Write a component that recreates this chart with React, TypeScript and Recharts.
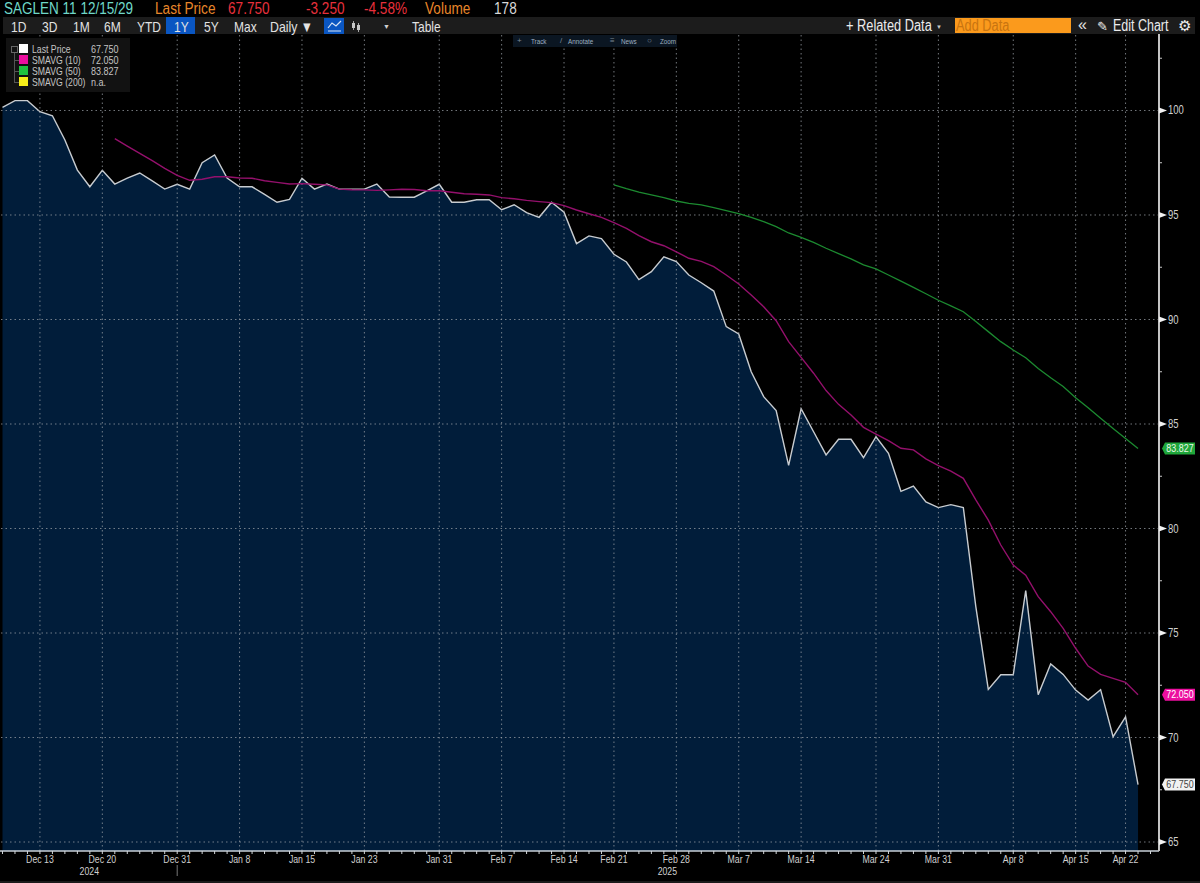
import React from 'react';
import { ComposedChart, Area, Line, XAxis, YAxis, ReferenceLine } from 'recharts';

// sessions as they sit on the axis, one per trading day
const dates = [
  'Dec 10', 'Dec 11', 'Dec 12', 'Dec 13', 'Dec 16', 'Dec 17', 'Dec 18', 'Dec 19', 'Dec 20',
  'Dec 23', 'Dec 24', 'Dec 26', 'Dec 27', 'Dec 30', 'Dec 31',
  'Jan 2', 'Jan 3', 'Jan 6', 'Jan 7', 'Jan 8', 'Jan 9', 'Jan 10', 'Jan 13', 'Jan 14', 'Jan 15',
  'Jan 16', 'Jan 17', 'Jan 21', 'Jan 22', 'Jan 23', 'Jan 24', 'Jan 27', 'Jan 28', 'Jan 29', 'Jan 30', 'Jan 31',
  'Feb 3', 'Feb 4', 'Feb 5', 'Feb 6', 'Feb 7', 'Feb 10', 'Feb 11', 'Feb 12', 'Feb 13', 'Feb 14',
  'Feb 18', 'Feb 19', 'Feb 20', 'Feb 21', 'Feb 24', 'Feb 25', 'Feb 26', 'Feb 27', 'Feb 28',
  'Mar 3', 'Mar 4', 'Mar 5', 'Mar 6', 'Mar 7', 'Mar 10', 'Mar 11', 'Mar 12', 'Mar 13', 'Mar 14',
  'Mar 17', 'Mar 18', 'Mar 19', 'Mar 20', 'Mar 21', 'Mar 24', 'Mar 25', 'Mar 26', 'Mar 27', 'Mar 28', 'Mar 31',
  'Apr 1', 'Apr 2', 'Apr 3', 'Apr 4', 'Apr 7', 'Apr 8', 'Apr 9', 'Apr 10', 'Apr 11', 'Apr 14', 'Apr 15',
  'Apr 16', 'Apr 17', 'Apr 21', 'Apr 22', 'Apr 23',
];

const lastPrice = [
  100.15, 100.47, 100.47, 99.94, 99.75, 98.59, 97.15, 96.35, 97.14, 96.48,
  96.76, 97.01, 96.63, 96.24, 96.47, 96.24, 97.5, 97.87, 96.77, 96.35,
  96.35, 95.99, 95.61, 95.75, 96.76, 96.24, 96.48, 96.24, 96.24, 96.24,
  96.48, 95.86, 95.85, 95.85, 96.16, 96.47, 95.61, 95.61, 95.73, 95.73,
  95.25, 95.49, 95.11, 94.89, 95.61, 95.13, 93.63, 94.0, 93.87, 93.12,
  92.75, 91.91, 92.29, 93.0, 92.77, 92.13, 91.76, 91.36, 89.66, 89.31,
  87.5, 86.31, 85.64, 83.02, 85.73, 84.63, 83.52, 84.27, 84.27, 83.39,
  84.39, 83.6, 81.78, 82.03, 81.27, 81.0, 81.14, 81.0, 76.26, 72.3,
  73.0, 73.0, 77.03, 72.05, 73.52, 73.02, 72.27, 71.79, 72.29, 70.04,
  70.99, 67.75,
];

const smavg10 = [
  null, null, null, null, null, null, null, null, null, 98.65,
  98.3, 97.95, 97.6, 97.23, 96.9, 96.66, 96.71, 96.83, 96.83, 96.77,
  96.76, 96.64, 96.56, 96.48, 96.5, 96.47, 96.44, 96.24, 96.21, 96.2,
  96.18, 96.2, 96.23, 96.22, 96.16, 96.16, 96.09, 96.02, 95.99, 95.96,
  95.83, 95.78, 95.7, 95.64, 95.59, 95.45, 95.24, 95.06, 94.89, 94.63,
  94.36, 94.01, 93.72, 93.53, 93.24, 92.93, 92.78, 92.53, 92.13, 91.7,
  91.17, 90.61, 89.94, 88.94, 88.19, 87.43, 86.6, 85.94, 85.43, 84.84,
  84.52, 84.2, 83.84, 83.76, 83.33, 83.01, 82.75, 82.4, 81.37, 80.4,
  79.21, 78.25, 77.77, 76.74, 76.02, 75.22, 74.27, 73.42, 73.02, 72.83,
  72.64, 72.05,
];

const smavg50 = [
  null, null, null, null, null, null, null, null, null, null,
  null, null, null, null, null, null, null, null, null, null,
  null, null, null, null, null, null, null, null, null, null,
  null, null, null, null, null, null, null, null, null, null,
  null, null, null, null, null, null, null, null, null, 96.44,
  96.26, 96.1, 95.96, 95.83, 95.67, 95.56, 95.48, 95.35, 95.21, 95.06,
  94.89, 94.68, 94.44, 94.14, 93.93, 93.69, 93.41, 93.15, 92.9, 92.61,
  92.42, 92.13, 91.84, 91.54, 91.23, 90.92, 90.65, 90.37, 89.9, 89.42,
  88.94, 88.54, 88.17, 87.66, 87.21, 86.79, 86.26, 85.78, 85.27, 84.79,
  84.31, 83.83,
];

const labeledDates = [
  'Dec 13', 'Dec 20', 'Dec 31', 'Jan 8', 'Jan 15', 'Jan 23', 'Jan 31', 'Feb 7', 'Feb 14',
  'Feb 21', 'Feb 28', 'Mar 7', 'Mar 14', 'Mar 24', 'Mar 31', 'Apr 8', 'Apr 15', 'Apr 22',
];
const priceTicks = [65, 67.5, 70, 72.5, 75, 77.5, 80, 82.5, 85, 87.5, 90, 92.5, 95, 97.5, 100, 102.5];
const rangeButtons = ['1D', '3D', '1M', '6M', 'YTD', '1Y', '5Y', 'Max'];
const legendNames = ['Last Price', 'SMAVG (10)', 'SMAVG (50)', 'SMAVG (200)'];
const legendValues = ['67.750', '72.050', '83.827', 'n.a.'];
const legendColors = ['#ffffff', '#ec0f9f', '#1fc23f', '#f7ee1a'];

const chartData = dates.map((d, i) => ({
  idx: i,
  date: d,
  price: lastPrice[i],
  sma10: smavg10[i],
  sma50: smavg50[i],
}));
const sessionTicks = [...dates.map((_, i) => i), dates.length];
const gridX = labeledDates.map(d => dates.indexOf(d));
const gridY = priceTicks.filter(t => t % 5 === 0);

const FONT = '"Liberation Sans", Arial, sans-serif';
const gridStroke = { stroke: '#9a9fa6', strokeOpacity: 0.75, strokeDasharray: '1.5 3', strokeWidth: 1 };

// no narrow face is installed, so the axis text gets squeezed sideways
function AxisText({ x, y, anchor = 'middle', size = 11.5, children }: any) {
  return (
    <text
      transform={`translate(${x},${y}) scale(0.76,1)`}
      textAnchor={anchor}
      fill="#d0d0d0"
      fontSize={size}
      fontFamily={FONT}
    >{children}</text>
  );
}

function DateTick({ x, y, payload }: any) {
  const name = dates[payload.value];
  const labeled = labeledDates.includes(name);
  return (
    <g>
      <line x1={x} x2={x} y1={y} y2={y + 3} stroke="#d4d8dc" strokeWidth={1} />
      {labeled && <AxisText x={x} y={y + 12}>{name}</AxisText>}
      {name === 'Dec 20' && <AxisText x={x - 13} y={y + 24}>2024</AxisText>}
      {name === 'Feb 28' && <AxisText x={x - 9} y={y + 24}>2025</AxisText>}
      {name === 'Dec 31' && <line x1={x} x2={x} y1={y + 14} y2={y + 25} stroke="#777" strokeWidth={1} />}
    </g>
  );
}

function PriceTick({ x, y, payload }: any) {
  if (payload.value % 5 !== 0) {
    return <line x1={x} x2={x + 3} y1={y} y2={y} stroke="#c8c8c8" strokeWidth={1} />;
  }
  return (
    <g>
      <polygon points={`${x},${y - 3} ${x},${y + 3} ${x + 8},${y}`} fill="#f2f2f2" />
      <AxisText x={x + 9} y={y + 4} anchor="start" size={12.5}>{payload.value}</AxisText>
    </g>
  );
}

// value flag that sits on the price axis next to the last point
const endTag = (fill: string, color: string, text: string) => (props: any) => {
  if (props.index !== dates.length - 1) return null;
  const y = props.y;
  return (
    <g>
      <polygon
        points={`1165,${y - 6} 1195,${y - 6} 1195,${y + 6} 1165,${y + 6} 1162,${y}`}
        fill={fill}
      />
      <text
        transform={`translate(1180,${y + 3.5}) scale(0.85,1)`}
        textAnchor="middle"
        fill={color}
        fontSize={10.5}
        fontFamily={FONT}
      >{text}</text>
    </g>
  );
};

function Txt({ x, y = 9, color, size = 16, sx = 0.85, children }: any) {
  return (
    <span style={{
      position: 'absolute', left: x, top: y, transform: `translateY(-50%) scaleX(${sx})`,
      transformOrigin: 'left center', color, fontSize: size, fontFamily: FONT,
      whiteSpace: 'nowrap', lineHeight: 1,
    }}>{children}</span>
  );
}

function Box({ x, y, w, h, bg }: any) {
  return <div style={{ position: 'absolute', left: x, top: y, width: w, height: h, background: bg }} />;
}

const buttonX = [11, 42, 73, 104, 137, 174, 204, 234];

function Header() {
  return (
    <>
      <Txt x={4} color="#6fd8c8" sx={0.845}>SAGLEN 11 12/15/29</Txt>
      <Txt x={155} color="#e8862a">Last Price</Txt>
      <Txt x={228} color="#e8303c">67.750</Txt>
      <Txt x={306} color="#e8303c">-3.250</Txt>
      <Txt x={364} color="#e8303c">-4.58%</Txt>
      <Txt x={425} color="#e8862a">Volume</Txt>
      <Txt x={494} color="#d8d8d8">178</Txt>

      <Box x={3} y={17} w={1192} h={17} bg="#1c1c1c" />
      <Box x={166} y={17} w={29} h={17} bg="#0a56c2" />
      <Box x={324} y={18} w={20} h={16} bg="#0a56c2" />
      <Box x={955} y={18} w={116} h={15} bg="#fb9a1c" />
      {rangeButtons.map((b, i) => (
        <Txt key={b} x={buttonX[i]} y={26} size={15} sx={0.8} color="#e2e2e2">{b}</Txt>
      ))}
      <Txt x={270} y={26} size={15} sx={0.82} color="#e2e2e2">Daily ▼</Txt>
      <svg style={{ position: 'absolute', left: 327, top: 20 }} width={15} height={12}>
        <polyline points="1,8 5,3 9,6 14,1" fill="none" stroke="#d8e4f4" strokeWidth={1.2} />
        <line x1={1} x2={14} y1={11} y2={11} stroke="#d8e4f4" />
      </svg>
      <svg style={{ position: 'absolute', left: 351, top: 20 }} width={10} height={13}>
        <line x1={2.5} x2={2.5} y1={1} y2={10} stroke="#a8a8a8" />
        <line x1={7.5} x2={7.5} y1={3} y2={12} stroke="#a8a8a8" />
        <rect x={1} y={3} width={3} height={5} fill="#c8c8c8" />
        <rect x={6} y={5} width={3} height={5} fill="#c8c8c8" />
      </svg>
      <Txt x={383} y={26} size={7} sx={1} color="#d0d0d0">▼</Txt>
      <Txt x={412} y={26} size={15} sx={0.8} color="#e2e2e2">Table</Txt>
      <Txt x={846} y={26} size={16} sx={0.8} color="#ececec">+ Related Data</Txt>
      <Txt x={936} y={27} size={6} sx={1} color="#c8c8c8">▼</Txt>
      <Txt x={956} y={26} size={16} sx={0.8} color="#c87410">Add Data</Txt>
      <Txt x={1078} y={25} size={16} sx={1} color="#e2e2e2">«</Txt>
      <Txt x={1097} y={26} size={13} sx={1} color="#ececec">✎</Txt>
      <Txt x={1113} y={26} size={16} sx={0.78} color="#ececec">Edit Chart</Txt>
      <Txt x={1178} y={25} size={15} sx={1} color="#ececec">⚙</Txt>

      <Box x={513} y={35} w={164} h={12} bg="#0b1622" />
      <Txt x={517} y={41} size={8} sx={1} color="#7d8b99">+</Txt>
      <Txt x={531} y={41} size={7} sx={0.9} color="#9fb0c0">Track</Txt>
      <Txt x={560} y={41} size={8} sx={1} color="#7d8b99">/</Txt>
      <Txt x={568} y={41} size={7} sx={0.9} color="#9fb0c0">Annotate</Txt>
      <Txt x={610} y={41} size={8} sx={1} color="#7d8b99">≡</Txt>
      <Txt x={621} y={41} size={7} sx={0.9} color="#9fb0c0">News</Txt>
      <Txt x={647} y={41} size={8} sx={1} color="#7d8b99">○</Txt>
      <Txt x={660} y={41} size={7} sx={0.9} color="#9fb0c0">Zoom</Txt>
    </>
  );
}

function LegendBox() {
  return (
    <>
      <Box x={6} y={38} w={124} h={54} bg="#121212" />
      {legendNames.map((name, i) => (
        <React.Fragment key={name}>
          <Box x={19} y={44 + i * 11} w={9} h={9} bg={legendColors[i]} />
          <Txt x={32} y={49 + i * 11} size={11} sx={0.79} color="#c4c4c4">{name}</Txt>
          <Txt x={91} y={49 + i * 11} size={11} sx={0.82} color="#c4c4c4">{legendValues[i]}</Txt>
        </React.Fragment>
      ))}
      <Box x={14} y={52} w={1} h={31} bg="#555" />
      {[60, 71, 82].map(y => <Box key={y} x={14} y={y} w={5} h={1} bg="#555" />)}
      <div style={{ position: 'absolute', left: 11, top: 46, width: 5, height: 5, border: '1px solid #666' }} />
    </>
  );
}

export default function App() {
  return (
    <div style={{ position: 'absolute', left: 0, top: 0, width: 1200, height: 883, background: '#000', overflow: 'hidden' }}>
      <ComposedChart
        width={1200}
        height={883}
        data={chartData}
        margin={{ top: 34, right: 0, bottom: 0, left: 0 }}
      >
        <XAxis
          dataKey="idx"
          type="number"
          domain={[-0.2, 92.68]}
          ticks={sessionTicks}
          interval={0}
          height={32}
          tick={<DateTick />}
          tickLine={false}
          tickSize={0}
          tickMargin={0}
          axisLine={{ stroke: '#c8d0d8', strokeWidth: 1.5 }}
        />
        <YAxis
          orientation="right"
          type="number"
          domain={[64.57, 103.66]}
          ticks={priceTicks}
          interval={0}
          width={41}
          allowDataOverflow
          tick={<PriceTick />}
          tickLine={false}
          tickSize={0}
          tickMargin={0}
          axisLine={{ stroke: '#c4c4c4', strokeWidth: 2 }}
        />
        <Area
          dataKey="price"
          type="linear"
          stroke="#c8ccd0"
          strokeWidth={1.4}
          fill="#011d3a"
          fillOpacity={1}
          dot={false}
          activeDot={false}
          isAnimationActive={false}
          label={endTag('#f2f2f2', '#444', '67.750')}
        />
        {gridX.map(v => <ReferenceLine key={`x${v}`} x={v} {...gridStroke} />)}
        {gridY.map(v => <ReferenceLine key={`y${v}`} y={v} {...gridStroke} />)}
        <Line
          dataKey="sma50"
          type="linear"
          stroke="#1c8a30"
          strokeWidth={1.3}
          dot={false}
          activeDot={false}
          connectNulls={false}
          isAnimationActive={false}
          label={endTag('#1fa63a', '#e8f8e8', '83.827')}
        />
        <Line
          dataKey="sma10"
          type="linear"
          stroke="#94106c"
          strokeWidth={1.4}
          dot={false}
          activeDot={false}
          connectNulls={false}
          isAnimationActive={false}
          label={endTag('#ec0f9f', '#ffffff', '72.050')}
        />
      </ComposedChart>
      <Header />
      <LegendBox />
      <Box x={0} y={881} w={1200} h={2} bg="#1a1a1a" />
    </div>
  );
}
